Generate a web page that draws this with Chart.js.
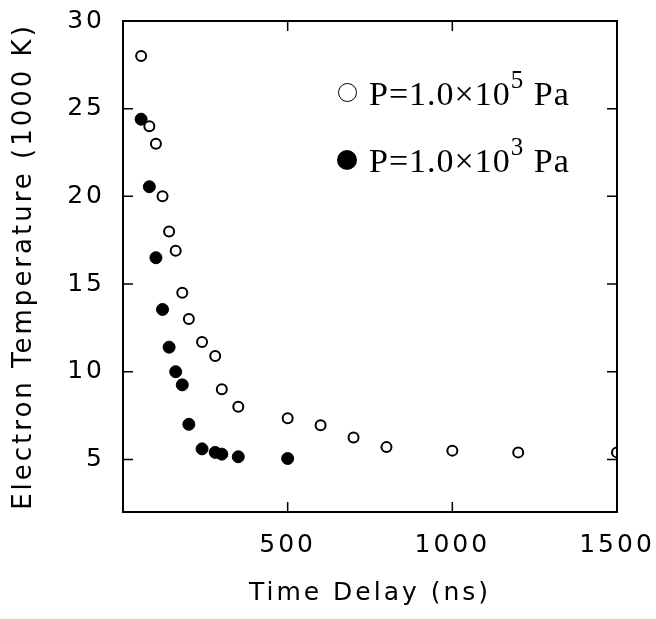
<!DOCTYPE html>
<html>
<head>
<meta charset="utf-8">
<script src="https://cdn.jsdelivr.net/npm/chart.js@4"></script>
<style>
  body { margin: 0; background: #fff; }
  #wrap { position: relative; width: 656px; height: 619px; }
  .leg { position: absolute; left: 369px; font-family: "Liberation Serif", serif; font-size: 34px;
         line-height: 34px; letter-spacing: 1px; color: #000; white-space: nowrap; }
  .leg sup { font-size: 25px; vertical-align: baseline; position: relative; top: -17px; }
  .sym { position: absolute; border-radius: 50%; box-sizing: border-box; }
</style>
</head>
<body>
<div id="wrap">
  <canvas id="tempChart" width="656" height="619"></canvas>
  <span class="sym" style="left:338px;top:83px;width:19px;height:19px;border:1.5px solid #000;background:#fff"></span>
  <div class="leg" style="top:77px">P=1.0×10<sup>5</sup> Pa</div>
  <span class="sym" style="left:337px;top:150px;width:20px;height:20px;background:#000"></span>
  <div class="leg" style="top:144px">P=1.0×10<sup>3</sup> Pa</div>
</div>
<script>
// time delay (ns) and electron temperature (1000 K)
var delayHigh = [55, 80, 100, 120, 140, 160, 180, 200, 240, 280, 300, 350, 500, 600, 700, 800, 1000, 1200, 1500];
var tempHigh = [28.0, 24.0, 23.0, 20.0, 18.0, 16.9, 14.5, 13.0, 11.7, 10.9, 9.0, 8.0, 7.35, 6.95, 6.25, 5.7, 5.5, 5.4, 5.4];
var delayLow = [55, 80, 100, 120, 140, 160, 180, 200, 240, 280, 300, 350, 500];
var tempLow = [24.4, 20.55, 16.5, 13.55, 11.4, 10.0, 9.25, 7.0, 5.6, 5.4, 5.3, 5.15, 5.05];
var xTicks = [500, 1000, 1500];
var yTicks = [5, 10, 15, 20, 25, 30];

function toPoints(xs, ys) {
  return xs.map(function (x, i) { return { x: x, y: ys[i] }; });
}

var axisFont = { family: "DejaVu Sans", size: 25 };

// inward tick marks + box frame, like the original plot
var framePlugin = {
  id: "frame",
  beforeDraw: function (chart) {
    chart.ctx.letterSpacing = "3px";
  },
  afterDatasetsDraw: function (chart) {
    var ctx = chart.ctx;
    var a = chart.chartArea;
    var xs = chart.scales.x, ys = chart.scales.y;
    var len = 10;
    ctx.save();
    ctx.strokeStyle = "#000";
    ctx.lineWidth = 1.5;
    ctx.beginPath();
    xTicks.forEach(function (v) {
      var px = xs.getPixelForValue(v);
      ctx.moveTo(px, a.bottom); ctx.lineTo(px, a.bottom - len);
      ctx.moveTo(px, a.top); ctx.lineTo(px, a.top + len);
    });
    yTicks.forEach(function (v) {
      var py = ys.getPixelForValue(v);
      ctx.moveTo(a.left, py); ctx.lineTo(a.left + len, py);
      ctx.moveTo(a.right, py); ctx.lineTo(a.right - len, py);
    });
    ctx.stroke();
    ctx.lineWidth = 2;
    ctx.strokeRect(a.left, a.top, a.right - a.left, a.bottom - a.top);
    ctx.restore();
  },
};

function plainLabel(v) { return String(v); }

new Chart(document.getElementById("tempChart").getContext("2d"), {
  type: "scatter",
  data: {
    datasets: [
      {
        label: "P=1.0×10^5 Pa",
        data: toPoints(delayHigh, tempHigh),
        backgroundColor: "#fff",
        borderColor: "#000",
        borderWidth: 2,
        pointRadius: 5,
      },
      {
        label: "P=1.0×10^3 Pa",
        data: toPoints(delayLow, tempLow),
        backgroundColor: "#000",
        borderColor: "#000",
        borderWidth: 1,
        pointRadius: 6,
      },
    ],
  },
  options: {
    responsive: false,
    animation: false,
    layout: { padding: { top: 21, right: 39, left: 0, bottom: 0 } },
    plugins: { legend: { display: false }, tooltip: { enabled: false } },
    scales: {
      x: {
        type: "linear",
        min: 0,
        max: 1500,
        afterBuildTicks: function (s) { s.ticks = xTicks.map(function (v) { return { value: v }; }); },
        afterFit: function (s) { s.height = 107; s.paddingLeft = 0; s.paddingRight = 0; },
        grid: { display: false, drawTicks: false },
        border: { display: false },
        ticks: { padding: 18, color: "#000", font: axisFont, callback: plainLabel },
        title: { display: true, text: "Time Delay (ns)", color: "#000",
                 font: { family: "DejaVu Sans", size: 25 }, padding: { top: 0, bottom: 11 } },
      },
      y: {
        min: 2,
        max: 30,
        afterBuildTicks: function (s) { s.ticks = yTicks.map(function (v) { return { value: v }; }); },
        afterFit: function (s) { s.width = 123; s.paddingTop = 0; s.paddingBottom = 0; },
        grid: { display: false, drawTicks: false },
        border: { display: false },
        ticks: { padding: 18, color: "#000", font: axisFont, callback: plainLabel },
        title: { display: true, text: "Electron Temperature (1000 K)", color: "#000",
                 font: { family: "DejaVu Sans", size: 26 }, padding: { top: 9, bottom: 0 } },
      },
    },
  },
  plugins: [framePlugin],
});
</script>
</body>
</html>
